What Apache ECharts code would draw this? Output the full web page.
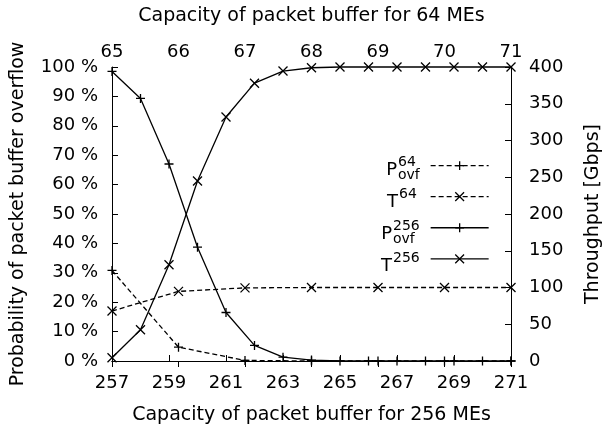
<!DOCTYPE html>
<html>
<head>
<meta charset="utf-8">
<script src="https://cdn.jsdelivr.net/npm/echarts@6/dist/echarts.min.js"></script>
<style>
  html, body { margin: 0; padding: 0; background: #fff; }
  #chart { width: 602px; height: 429px; }
</style>
</head>
<body>
<div id="chart"></div>
<script>
// ---- data ----
const cap256 = [257, 258, 259, 260, 261, 262, 263, 264, 265, 266, 267, 268, 269, 270, 271];
const pOvf256 = [98.5, 89.3, 67, 38.7, 16.5, 5.3, 1.3, 0.3, 0, 0, 0, 0, 0, 0, 0];
const t256 = [4.5, 42.5, 131, 245, 332, 378, 394.5, 399, 400, 400, 400, 400, 400, 400, 400];
const cap64 = [65, 66, 67, 68, 69, 70, 71];
const pOvf64 = [30.8, 4.7, 0.2, 0, 0, 0, 0];
const t64 = [68, 94.7, 99.5, 100, 100, 100, 100];
const bottomTicks = [257, 259, 261, 263, 265, 267, 269, 271];

const FONT = 'DejaVu Sans';
const PLUS = 'path://M0,5L10,5M5,0L5,10';
const CROSS = 'path://M0,0L10,10M10,0L0,10';

function pairs(xs, ys) { return xs.map((x, i) => [x, ys[i]]); }

const chart = echarts.init(document.getElementById('chart'), null, { renderer: 'canvas' });

const axisLineStyle = { show: true, lineStyle: { color: '#000', width: 1 } };
const tickStyle = { show: true, inside: true, length: 6, lineStyle: { color: '#000', width: 1 } };
const labelStyle = { color: '#000', fontFamily: FONT, fontSize: 18 };
const nameStyle = { color: '#000', fontFamily: FONT, fontSize: 19 };

function mkSeries(name, xs, ys, xIdx, yIdx, dashed, sym) {
  return {
    name: name,
    type: 'line',
    xAxisIndex: xIdx,
    yAxisIndex: yIdx,
    data: pairs(xs, ys),
    symbol: sym,
    symbolSize: 9,
    showAllSymbol: true,
    clip: false,
    animation: false,
    lineStyle: { color: '#000', width: 1.3, type: dashed ? [5, 3] : 'solid' },
    itemStyle: { color: '#000', borderColor: '#000', borderWidth: 1.3 },
    emphasis: { disabled: true }
  };
}

const legendRows = [166, 198, 230, 262];

function legendLabel(main, sup, sub, y, x0) {
  const els = [
    { type: 'text', x: x0 - 1, y: y + 4,
      style: { text: main, fill: '#000', font: '18px "' + FONT + '"', align: 'right', verticalAlign: 'middle' } },
    { type: 'text', x: x0, y: y - 4,
      style: { text: sup, fill: '#000', font: '14px "' + FONT + '"', align: 'left', verticalAlign: 'middle' } }
  ];
  if (sub) {
    els.push({ type: 'text', x: x0, y: y + 9.5,
      style: { text: sub, fill: '#000', font: '14px "' + FONT + '"', align: 'left', verticalAlign: 'middle' } });
  }
  return els;
}

const graphics = [].concat(
  legendLabel('P', '64', 'ovf', legendRows[0], 398),
  legendLabel('T', '64', null, legendRows[1], 399),
  legendLabel('P', '256', 'ovf', legendRows[2], 393),
  legendLabel('T', '256', null, legendRows[3], 393)
);

const option = {
  backgroundColor: '#fff',
  animation: false,
  textStyle: { fontFamily: FONT },
  grid: { left: 112, right: 91, top: 67, bottom: 68, containLabel: false, outerBoundsMode: 'none' },
  legend: {
    orient: 'vertical',
    left: 430,
    top: 160.5,
    padding: 0,
    itemWidth: 58,
    itemHeight: 11,
    itemGap: 21,
    selectedMode: false,
    formatter: function () { return ''; },
    textStyle: { fontSize: 8, lineHeight: 8 },
    itemStyle: { color: 'transparent', borderColor: '#000', borderWidth: 1.3 },
    lineStyle: { width: 1.3, color: '#000' },
    data: ['P64', 'T64', 'P256', 'T256']
  },
  xAxis: [
    {
      type: 'value', position: 'bottom', min: 257, max: 271, interval: 1,
      name: 'Capacity of packet buffer for 256 MEs', nameLocation: 'middle', nameGap: 45,
      nameTextStyle: nameStyle,
      axisLine: axisLineStyle,
      axisTick: Object.assign({}, tickStyle, { customValues: bottomTicks }),
      axisLabel: Object.assign({}, labelStyle, { margin: 13, customValues: bottomTicks }),
      splitLine: { show: false }
    },
    {
      type: 'value', position: 'top', min: 65, max: 71, interval: 1,
      name: 'Capacity of packet buffer for 64 MEs', nameLocation: 'middle', nameGap: 41,
      nameTextStyle: nameStyle,
      axisLine: axisLineStyle,
      axisTick: tickStyle,
      axisLabel: Object.assign({}, labelStyle, { margin: 6 }),
      splitLine: { show: false }
    }
  ],
  yAxis: [
    {
      type: 'value', position: 'left', min: 0, max: 100, interval: 10,
      name: 'Probability of packet buffer overflow', nameLocation: 'middle', nameGap: 84,
      nameTextStyle: nameStyle,
      axisLine: axisLineStyle,
      axisTick: tickStyle,
      axisLabel: Object.assign({}, labelStyle, { margin: 14, formatter: '{value} %' }),
      splitLine: { show: false }
    },
    {
      type: 'value', position: 'right', min: 0, max: 400, interval: 50,
      name: 'Throughput [Gbps]', nameLocation: 'middle', nameGap: 73,
      nameTextStyle: nameStyle,
      axisLine: axisLineStyle,
      axisTick: tickStyle,
      axisLabel: Object.assign({}, labelStyle, { margin: 18 }),
      splitLine: { show: false }
    }
  ],
  graphic: graphics,
  series: [
    mkSeries('P64', cap64, pOvf64, 1, 0, true, PLUS),
    mkSeries('T64', cap64, t64, 1, 1, true, CROSS),
    mkSeries('P256', cap256, pOvf256, 0, 0, false, PLUS),
    mkSeries('T256', cap256, t256, 0, 1, false, CROSS)
  ]
};

chart.setOption(option);
</script>
</body>
</html>
